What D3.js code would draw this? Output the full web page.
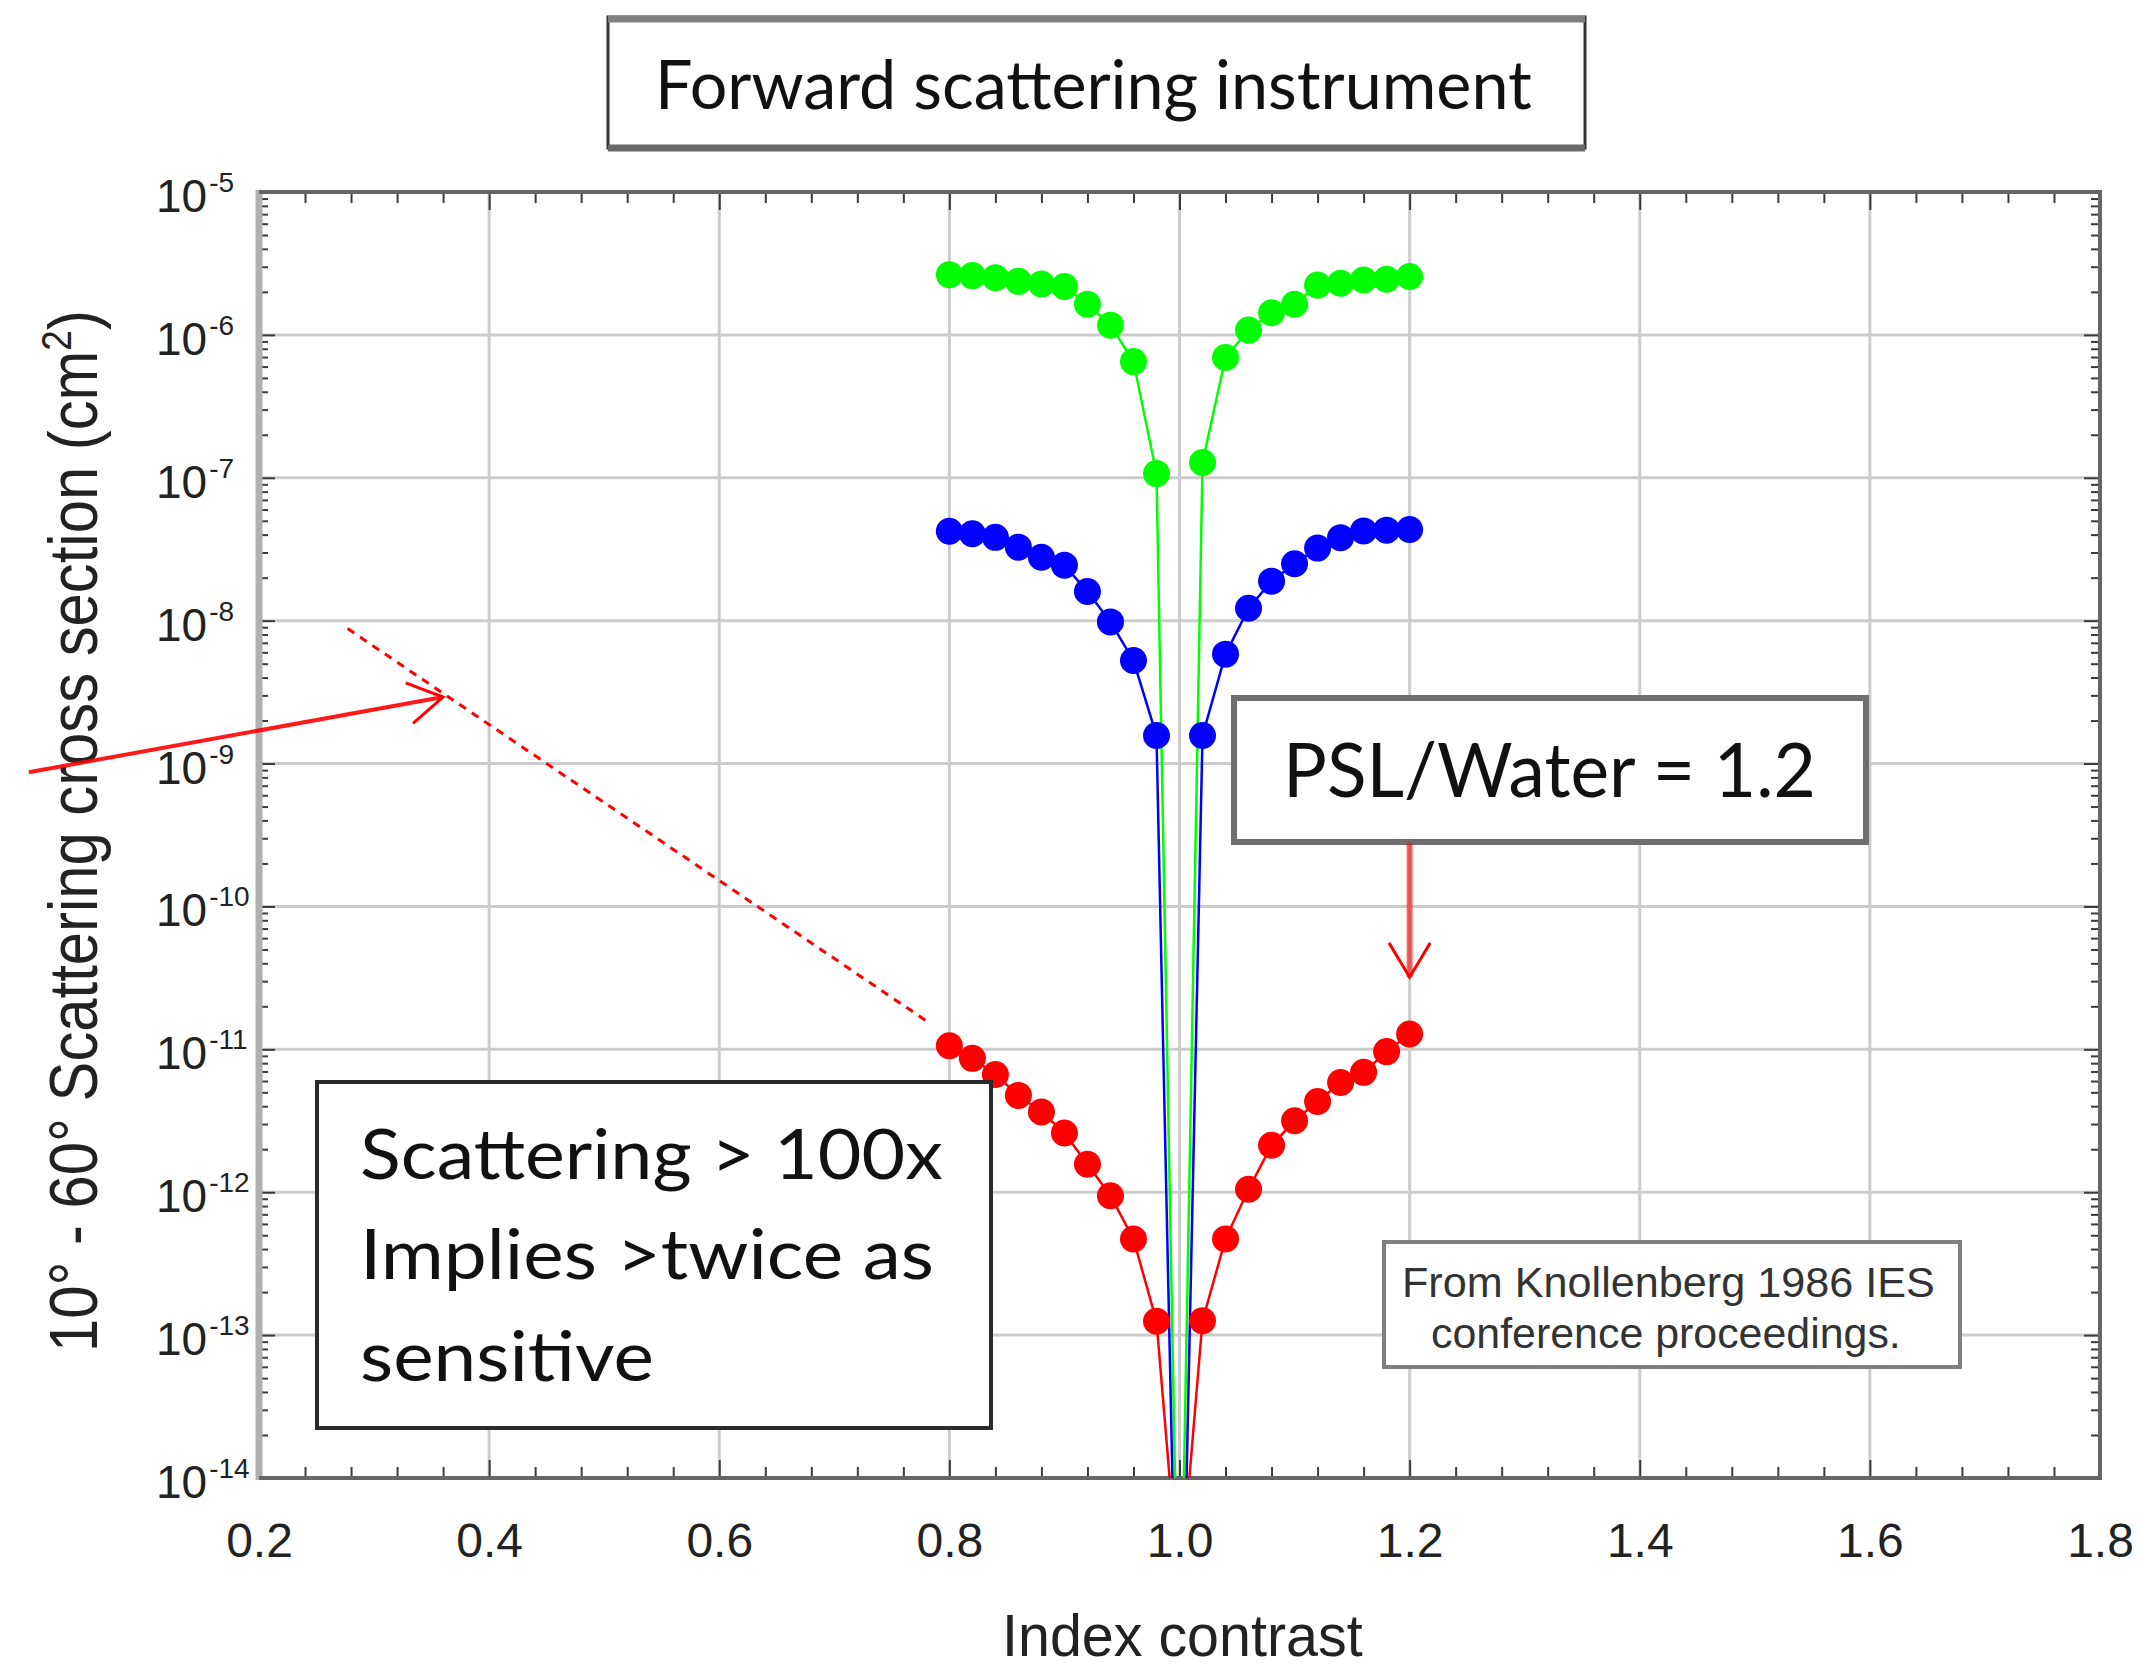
<!DOCTYPE html>
<html><head><meta charset="utf-8">
<script src="https://cdn.jsdelivr.net/npm/d3@7/dist/d3.min.js"></script>
<style>body{margin:0;background:#fff}svg{display:block}</style>
</head><body>
<svg id="chart" width="2141" height="1674"></svg>
<script>
// ---------------- data ----------------
const indexContrast = [0.80,0.82,0.84,0.86,0.88,0.90,0.92,0.94,0.96,0.98,1.00,
                       1.02,1.04,1.06,1.08,1.10,1.12,1.14,1.16,1.18,1.20];
const greenValues = [2.64e-6,2.60e-6,2.51e-6,2.37e-6,2.27e-6,2.18e-6,1.64e-6,1.17e-6,6.5e-7,1.07e-7,2e-16,
                     1.28e-7,6.95e-7,1.08e-6,1.43e-6,1.64e-6,2.23e-6,2.30e-6,2.42e-6,2.45e-6,2.56e-6];
const blueValues  = [4.22e-8,4.06e-8,3.83e-8,3.27e-8,2.78e-8,2.44e-8,1.60e-8,9.8e-9,5.26e-9,1.57e-9,5e-17,
                     1.57e-9,5.83e-9,1.22e-8,1.89e-8,2.50e-8,3.22e-8,3.81e-8,4.25e-8,4.30e-8,4.35e-8];
const redValues   = [1.06e-11,8.65e-12,6.67e-12,4.76e-12,3.64e-12,2.60e-12,1.57e-12,9.45e-13,4.70e-13,1.25e-13,1.5e-15,
                     1.26e-13,4.70e-13,1.05e-12,2.13e-12,3.16e-12,4.31e-12,5.86e-12,6.90e-12,9.64e-12,1.28e-11];
const seriesColors = ["#00ff00","#0000ff","#ff0000"];

const xTicks = [0.2,0.4,0.6,0.8,1.0,1.2,1.4,1.6,1.8];
const xTickLabels = ["0.2","0.4","0.6","0.8","1.0","1.2","1.4","1.6","1.8"];
const yTickExponents = [-14,-13,-12,-11,-10,-9,-8,-7,-6,-5];

const titleText = "Forward scattering instrument";
const xLabelText = "Index contrast";
const yLabelText = "10° - 60° Scattering cross section (cm";
const pslText = "PSL/Water = 1.2";
const noteLines = ["Scattering > 100x","Implies >twice as","sensitive"];
const sourceLines = ["From Knollenberg 1986 IES","conference proceedings."];

// annotation anchors in data coordinates
const dashedGuide = [[0.277, 8.8e-9],[0.781, 1.56e-11]];
const leftArrow   = [[0.0, 8.7e-10],[0.36, 2.92e-9]];
const downArrow   = [[1.2, 2.78e-10],[1.2, 3.2e-11]];

// ---------------- layout ----------------
const svg = d3.select("#chart");
const L = 259, R = 2100, T = 192, B = 1478;
const x = d3.scaleLinear().domain([0.2,1.8]).range([L,R]);
const y = d3.scaleLog().domain([1e-14,1e-5]).range([B,T]);

svg.append("rect").attr("width",2141).attr("height",1674).attr("fill","#fff");
svg.append("defs").append("clipPath").attr("id","plotclip")
  .append("rect").attr("x",L).attr("y",T).attr("width",R-L).attr("height",B-T);

// gridlines
const grid = svg.append("g").attr("stroke","#cccccc").attr("stroke-width",3);
grid.selectAll("line.gx").data(xTicks.slice(1,-1)).join("line")
  .attr("x1",d=>x(d)).attr("x2",d=>x(d)).attr("y1",T).attr("y2",B);
grid.selectAll("line.gy").data(yTickExponents.slice(1,-1)).join("line")
  .attr("y1",d=>y(Math.pow(10,d))).attr("y2",d=>y(Math.pow(10,d))).attr("x1",L).attr("x2",R);

// ticks via d3 axes
const xMinor = d3.range(0,41).map(i=>+(0.2+i*0.04).toFixed(2)).filter(v=>!xTicks.some(t=>Math.abs(t-v)<1e-6));
const yMajor = yTickExponents.map(e=>Math.pow(10,e));
const yMinor = [];
yTickExponents.slice(0,-1).forEach(e=>{ for(let m=2;m<=9;m++) yMinor.push(m*Math.pow(10,e)); });

function styleAxis(g){ g.select(".domain").remove(); g.selectAll(".tick line").attr("stroke","#3a3a3a").attr("stroke-width",2); }

const xb = svg.append("g").attr("transform",`translate(0,${B})`)
  .call(d3.axisBottom(x).tickValues(xTicks).tickFormat((d,i)=>xTickLabels[i]).tickSize(-18).tickPadding(45));
styleAxis(xb);
xb.selectAll("text").attr("font-family","'Liberation Sans', Arial, sans-serif").attr("font-size",48).attr("fill","#222");
svg.append("g").attr("transform",`translate(0,${B})`)
  .call(d3.axisBottom(x).tickValues(xMinor).tickFormat("").tickSize(-11)).call(styleAxis);
svg.append("g").attr("transform",`translate(0,${T})`)
  .call(d3.axisTop(x).tickValues(xTicks).tickFormat("").tickSize(-18)).call(styleAxis);
svg.append("g").attr("transform",`translate(0,${T})`)
  .call(d3.axisTop(x).tickValues(xMinor).tickFormat("").tickSize(-11)).call(styleAxis);
svg.append("g").attr("transform",`translate(${L},0)`)
  .call(d3.axisLeft(y).tickValues(yMajor).tickFormat("").tickSize(-16)).call(styleAxis);
svg.append("g").attr("transform",`translate(${L},0)`)
  .call(d3.axisLeft(y).tickValues(yMinor).tickFormat("").tickSize(-9)).call(styleAxis);
svg.append("g").attr("transform",`translate(${R},0)`)
  .call(d3.axisRight(y).tickValues(yMajor).tickFormat("").tickSize(-16)).call(styleAxis);
svg.append("g").attr("transform",`translate(${R},0)`)
  .call(d3.axisRight(y).tickValues(yMinor).tickFormat("").tickSize(-9)).call(styleAxis);

// y tick labels 10^e
const yl = svg.append("g").attr("font-family","'Liberation Sans', Arial, sans-serif").attr("fill","#222");
yTickExponents.forEach(e=>{
  const t = yl.append("text").attr("x",156).attr("y",y(Math.pow(10,e))+20).attr("font-size",46).text("10");
  t.append("tspan").attr("dy",-20).attr("dx",2).attr("font-size",28).text(String(e));
});

// frame
svg.append("line").attr("x1",L).attr("x2",L).attr("y1",T-2).attr("y2",B+2).attr("stroke","#b0b0b0").attr("stroke-width",7);
svg.append("path").attr("d",`M${L},${T}H${R}V${B}H${L}`).attr("fill","none").attr("stroke","#666").attr("stroke-width",4);

// series
const series = [greenValues, blueValues, redValues];
const lineGen = d3.line().x(d=>x(d[0])).y(d=>y(d[1]));
const dataG = svg.append("g").attr("clip-path","url(#plotclip)");
series.forEach((vals,si)=>{
  const pts = indexContrast.map((c,i)=>[c, vals[i]]);
  dataG.append("path").datum(pts).attr("d",lineGen).attr("fill","none")
    .attr("stroke",seriesColors[si]).attr("stroke-width",2.5);
  dataG.selectAll(null).data(pts.filter(p=>p[0]!==1.0)).join("circle")
    .attr("cx",d=>x(d[0])).attr("cy",d=>y(d[1])).attr("r",13.5).attr("fill",seriesColors[si]);
});

// ---------- text fitting helper ----------
function fitText(parent, o){
  const g = parent.append("g").attr("transform",`translate(${o.x},${o.y}) rotate(${o.rotate||0})`);
  const inner = g.append("g");
  const t = inner.append("text").attr("x",0).attr("y",0)
    .attr("font-family",o.family).attr("font-size",o.size).attr("fill",o.fill||"#111");
  if (o.build) o.build(t); else t.text(o.text);
  const w = t.node().getBBox().width;
  inner.attr("transform",`scale(${o.width/w},1)`);
  return t;
}
const calibri = "Lato, 'Open Sans', sans-serif";
const arial = "'Liberation Sans', Arial, sans-serif";

// axis labels
fitText(svg,{x:1002,y:1656,text:xLabelText,size:60,family:arial,width:361,fill:"#222"});
fitText(svg,{x:97,y:1352,rotate:-90,size:68,family:arial,width:1042,fill:"#222",
  build:t=>{ t.text(yLabelText); t.append("tspan").attr("dy",-26).attr("font-size",42).text("2");
             t.append("tspan").attr("dy",26).text(")"); }});

// title box
svg.append("rect").attr("x",608).attr("y",17).attr("width",977).attr("height",131)
  .attr("fill","#fff").attr("stroke","#333").attr("stroke-width",3);
svg.append("line").attr("x1",608).attr("x2",1585).attr("y1",19).attr("y2",19).attr("stroke","#808080").attr("stroke-width",7);
svg.append("line").attr("x1",608).attr("x2",1585).attr("y1",148).attr("y2",148).attr("stroke","#6a6a6a").attr("stroke-width",7);
fitText(svg,{x:655,y:109,text:titleText,size:68,family:calibri,width:877});

// dashed guide and left arrow
const ann = svg.append("g");
ann.append("line").attr("x1",x(dashedGuide[0][0])).attr("y1",y(dashedGuide[0][1]))
  .attr("x2",x(dashedGuide[1][0])).attr("y2",y(dashedGuide[1][1]))
  .attr("stroke","#ff0000").attr("stroke-width",3).attr("stroke-dasharray","8 7");
function arrow(g, a, shaftW, shaftOpacity){
  const x1=x(a[0][0]), y1=y(a[0][1]), x2=x(a[1][0]), y2=y(a[1][1]);
  g.append("line").attr("x1",x1).attr("y1",y1).attr("x2",x2).attr("y2",y2)
    .attr("stroke","#ff0000").attr("stroke-width",shaftW).attr("stroke-opacity",shaftOpacity);
  const ang = Math.atan2(y1-y2, x1-x2), len = 40, spread = 31*Math.PI/180;
  const p = [ang-spread, ang+spread].map(a2=>[x2+len*Math.cos(a2), y2+len*Math.sin(a2)]);
  g.append("path").attr("d",`M${p[0][0]},${p[0][1]}L${x2},${y2}L${p[1][0]},${p[1][1]}`)
    .attr("fill","none").attr("stroke","#ff0000").attr("stroke-width",3);
}
arrow(ann, leftArrow, 4, 0.9);

// Scattering note box
svg.append("rect").attr("x",317).attr("y",1082).attr("width",674).attr("height",346)
  .attr("fill","#fff").attr("stroke","#2a2a2a").attr("stroke-width",4);
const noteX = 360, noteY = [1179,1279,1381], noteW = [583,574,294];
noteLines.forEach((s,i)=>fitText(svg,{x:noteX,y:noteY[i],text:s,size:70,family:calibri,width:noteW[i]}));

// PSL box + arrow
svg.append("rect").attr("x",1234).attr("y",698).attr("width",632).attr("height",144)
  .attr("fill","#fff").attr("stroke","#6f6f6f").attr("stroke-width",6);
fitText(svg,{x:1283,y:797,text:pslText,size:75,family:calibri,width:533});
arrow(ann.raise(), downArrow, 6, 0.6);

// Source box
svg.append("rect").attr("x",1384).attr("y",1242).attr("width",576).attr("height",125)
  .attr("fill","#fff").attr("stroke","#7f7f7f").attr("stroke-width",4);
fitText(svg,{x:1402,y:1297,text:sourceLines[0],size:43,family:arial,width:533,fill:"#333"});
fitText(svg,{x:1431,y:1348,text:sourceLines[1],size:43,family:arial,width:470,fill:"#333"});
</script>
</body></html>
